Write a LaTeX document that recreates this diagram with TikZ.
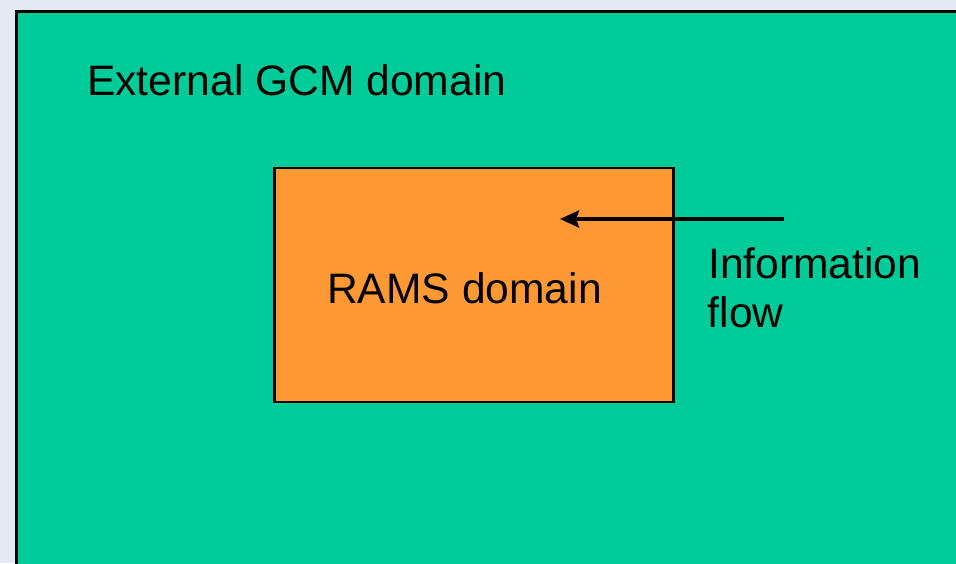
\documentclass[tikz,border=0pt]{standalone}
\usepackage{fontspec}
\setmainfont{Liberation Sans}
\usetikzlibrary{arrows.meta}
\definecolor{bgblue}{HTML}{E4EAF4}
\definecolor{gcmgreen}{HTML}{00CC99}
\definecolor{ramsorange}{HTML}{FF9933}
\tikzset{
  lbl/.style={font=\fontsize{42.6}{49}\selectfont, inner sep=0pt, anchor=base west, text=black},
  flowarrow/.style={line width=4.5pt, -{Stealth[length=19pt,width=17pt,inset=3pt]}},
}
\begin{document}
\begin{tikzpicture}[x=1pt,y=-1pt]
\useasboundingbox (0,0) rectangle (956,563);
\clip (0,0) rectangle (956,563);
\fill[bgblue] (0,0) rectangle (956,563);
\draw[fill=gcmgreen, line width=3pt] (16,11) rectangle (980,590);
\node[draw, fill=ramsorange, line width=2.5pt, minimum width=399pt, minimum height=234pt, anchor=north west, inner sep=0pt] (rams) at (273,166.5) {};
\node[lbl] (gcmlabel) at (87,95) {External GCM domain};
\node[lbl] (ramslabel) at (327,303) {RAMS domain};
\node[lbl] (info1) at (708,278) {Information};
\node[lbl] (info2) at (707.5,327) {flow};
\coordinate (flowstart) at (784,219);
\coordinate (flowend) at (560,219);
\draw[flowarrow] (flowstart) -- (flowend);
\end{tikzpicture}
\end{document}
